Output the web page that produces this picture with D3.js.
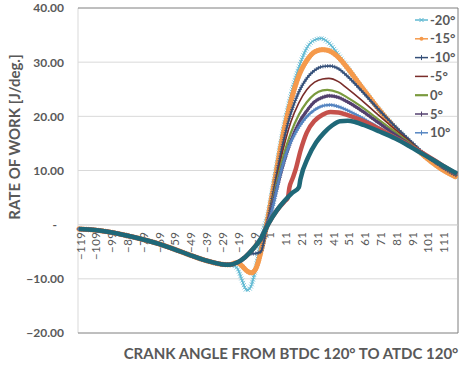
<!DOCTYPE html>
<html lang="en">
<head>
  <meta charset="UTF-8" />
  <title>Rate of work vs crank angle</title>
  <script src="https://d3js.org/d3.v7.min.js"></script>
  <style>
    body { margin: 0; background: #fff; }
    svg { display: block; font-family: Lato, "Open Sans", sans-serif; }
    .tick text { fill: #595959; }
  </style>
</head>
<body>
  <div id="chart"></div>

  <script>
    // shared early part of every curve (angle, J/deg)
    const sharedStart = [[-119,-0.8],[-109,-1.0],[-99,-1.4],[-89,-2.0],[-79,-2.7],[-69,-3.5],
      [-59,-4.5],[-49,-5.6],[-39,-6.6],[-29,-7.3],[-24,-7.4],[-19,-7.0]];

    const seriesNames = ["-20°","-15°","-10°","-5°","0°","5°","10°","15°","20°"];

    const curveM20 = [[-22,-7.5],[-19,-8.0],[-16,-10.2],[-13,-12.1],[-11,-11.8],[-8,-9.0],[-5,-4.5],[-2,-0.5],
      [0,1.5],[5,9.5],[10,17.5],[15,24.0],[20,29.0],[25,32.6],[30,34.1],[34,34.4],[38,33.8],[45,31.4],
      [50,29.3],[60,25.3],[70,21.5],[80,18.2],[90,15.3],[100,12.6],[110,10.4],[120,8.8]];
    const curveM15 = [[-16,-7.6],[-13,-8.5],[-10,-8.9],[-7,-8.0],[-4,-5.0],[-1,-1.0],[0,0.5],[5,8.5],
      [10,16.5],[15,22.8],[20,27.5],[25,30.3],[30,31.9],[35,32.3],[38,32.2],[45,30.9],[50,29.2],
      [60,25.3],[70,21.5],[80,18.1],[90,15.2],[100,12.5],[110,10.3],[120,8.7]];
    const curveM10 = [[-14,-6.0],[-11,-5.4],[-7,-5.3],[-4,-5.0],[-2,-3.0],[0,0.0],[5,7.8],[10,15.0],
      [15,20.6],[20,24.5],[25,27.0],[30,28.5],[35,29.2],[40,29.3],[45,28.8],[50,27.6],[60,24.6],
      [70,21.4],[80,18.4],[90,15.6],[100,12.9],[110,10.7],[120,9.0]];
    const curveM5 = [[-14,-6.0],[-9,-4.6],[-4,-2.5],[0,0.3],[5,7.2],[10,13.8],[15,19.0],[20,22.5],
      [25,24.9],[30,26.3],[35,26.9],[39,27.0],[45,26.4],[50,25.3],[60,22.9],[70,20.3],[80,17.8],
      [90,15.4],[100,12.9],[110,10.8],[120,9.1]];
    const curve0 = [[-14,-6.0],[-9,-4.6],[-4,-2.5],[0,0.3],[5,6.5],[10,12.5],[15,17.0],[20,20.3],
      [25,22.6],[30,24.1],[35,24.8],[38,24.9],[45,24.4],[50,23.6],[60,21.7],[70,19.5],[80,17.3],
      [90,15.1],[100,12.9],[110,10.9],[120,9.2]];
    const curveP5 = [[-14,-6.0],[-9,-4.6],[-4,-2.4],[0,0.2],[5,5.5],[10,11.0],[15,15.5],[20,18.8],
      [25,21.0],[30,22.7],[35,23.5],[39,23.8],[45,23.5],[50,22.8],[60,21.0],[70,18.9],[80,16.8],
      [90,14.8],[100,12.8],[110,10.9],[120,9.2]];
    const curveP10 = [[-14,-6.0],[-9,-4.6],[-4,-2.3],[0,0.0],[3,2.6],[8,9.0],[13,13.9],[18,17.0],
      [24,19.6],[30,21.2],[36,22.0],[40,22.1],[45,21.8],[50,21.2],[60,19.7],[70,18.0],[80,16.3],
      [90,14.6],[100,12.8],[110,11.0],[120,9.3]];
    const curveP15 = [[-14,-6.0],[-9,-4.5],[-4,-2.6],[1,0.3],[6,2.6],[11,4.3],[13,4.9],[14,6.8],[16,8.5],
      [18,10.2],[21,13.6],[25,17.0],[30,19.2],[35,20.3],[40,20.8],[45,20.7],[50,20.3],[60,19.2],
      [70,17.8],[80,16.2],[90,14.6],[100,12.9],[110,11.1],[120,9.3]];
    const curveP20 = [[-14,-6.0],[-9,-4.5],[-4,-2.6],[1,0.3],[6,2.6],[11,4.4],[16,5.9],[20,6.9],
      [21,8.4],[26,12.5],[31,15.2],[36,17.0],[41,18.3],[46,19.1],[51,19.2],[56,18.9],[61,18.4],
      [71,17.2],[81,15.9],[91,14.3],[101,12.6],[111,10.9],[120,9.4]];

    const curves = [curveM20, curveM15, curveM10, curveM5, curve0, curveP5, curveP10, curveP15, curveP20];

    const yTicks = [-20, -10, 0, 10, 20, 30, 40];
    const xTicks = d3.range(-119, 120, 10);

    const colors = ["#5fb9d2","#f59a4c","#344f78","#7a2d2a","#7a9a3e","#54416f","#5585c2","#c5504b","#1f6878"];
    const widths = [1.4, 3.2, 1.6, 1.6, 2.2, 3, 2.2, 4.5, 4.5];
    const markers = ["x", "dot", "plus", null, null, "plus", "plus", null, null];

    const width = 463, height = 368;
    const mLeft = 79, mRight = 457, mTop = 8, mBottom = 333;

    const svg = d3.select("#chart").append("svg")
      .attr("width", width).attr("height", height);

    const x = d3.scaleLinear().domain([-119, 120]).range([mLeft, mRight]);
    const y = d3.scaleLinear().domain([-20, 40]).range([mBottom, mTop]);

    // gridlines
    svg.append("g").selectAll("line")
      .data(yTicks.filter(v => v > -20 && v < 40))
      .join("line")
      .attr("x1", mLeft - 1).attr("x2", mRight)
      .attr("y1", d => y(d)).attr("y2", d => y(d))
      .attr("stroke", "#d9d9d9").attr("stroke-width", 1);

    // frame
    svg.append("line").attr("x1", mLeft - 1).attr("x2", mLeft - 1).attr("y1", mTop).attr("y2", mBottom)
      .attr("stroke", "#d9d9d9");
    svg.append("path")
      .attr("d", `M${mLeft - 1},${mTop}H${mRight + 1}V${mBottom}H${mLeft - 1}`)
      .attr("fill", "none").attr("stroke", "#7f7f7f").attr("stroke-width", 1);

    // y axis
    const yAxis = svg.append("g")
      .attr("transform", `translate(${mLeft - 1},0)`)
      .call(d3.axisLeft(y).tickValues(yTicks).tickSize(0).tickPadding(14)
        .tickFormat(d => d === 0 ? "-" : d3.format(".2f")(d)));
    yAxis.select(".domain").remove();
    yAxis.selectAll("text")
      .attr("font-size", 12).attr("font-weight", "bold")
      .attr("font-family", "Lato, sans-serif")
      .attr("dx", d => d === 0 ? -7 : 0);

    // x axis along zero line
    const xAxis = svg.append("g")
      .attr("transform", `translate(0,${y(0)})`)
      .call(d3.axisBottom(x).tickValues(xTicks).tickSize(0).tickFormat(d3.format("d")));
    xAxis.select(".domain").attr("stroke", "#d9d9d9");
    xAxis.selectAll("text")
      .attr("font-size", 11.5).attr("font-family", "Lato, sans-serif")
      .attr("letter-spacing", 0.4)
      .attr("transform", "rotate(-90)")
      .attr("text-anchor", "end")
      .attr("x", -7).attr("y", 1).attr("dy", "0.35em");

    // series
    const line = d3.line().x(d => x(d[0])).y(d => y(d[1])).curve(d3.curveMonotoneX);

    const plot = svg.append("g");
    curves.forEach((c, i) => {
      const pts = sharedStart.filter(p => p[0] < c[0][0]).concat(c);
      const path = plot.append("path")
        .attr("d", line(pts))
        .attr("fill", "none")
        .attr("stroke", colors[i])
        .attr("stroke-width", widths[i])
        .attr("stroke-linejoin", "round");

      if (markers[i]) {
        const node = path.node();
        const total = node.getTotalLength();
        const pos = d3.range(0, total, 2.4).map(l => node.getPointAtLength(l));
        const mk = plot.append("g").attr("stroke", colors[i]).attr("fill", colors[i]);
        pos.forEach(p => {
          if (markers[i] === "dot") {
            mk.append("circle").attr("cx", p.x).attr("cy", p.y).attr("r", 2.2);
          } else if (markers[i] === "x") {
            mk.append("path").attr("d", `M${p.x - 2},${p.y - 2}L${p.x + 2},${p.y + 2}M${p.x - 2},${p.y + 2}L${p.x + 2},${p.y - 2}`)
              .attr("stroke-width", 0.8);
          } else {
            mk.append("path").attr("d", `M${p.x - 2},${p.y}H${p.x + 2}M${p.x},${p.y - 2}V${p.y + 2}`)
              .attr("stroke-width", 0.8);
          }
        });
      }
    });

    // legend (only first seven entries shown)
    const legend = svg.append("g");
    seriesNames.slice(0, 7).forEach((name, i) => {
      const ly = 20 + i * 18.8;
      const g = legend.append("g").attr("transform", `translate(415,${ly})`);
      g.append("line").attr("x1", 0).attr("x2", 13).attr("y1", 0).attr("y2", 0)
        .attr("stroke", colors[i]).attr("stroke-width", i === 4 ? 2.2 : 1.5);
      if (markers[i] === "x") {
        g.append("path").attr("d", "M4.5,-2L8.5,2M4.5,2L8.5,-2").attr("stroke", colors[i]);
      } else if (markers[i] === "dot") {
        g.append("circle").attr("cx", 6.5).attr("cy", 0).attr("r", 2).attr("fill", colors[i]);
      } else if (markers[i] === "plus") {
        g.append("path").attr("d", "M6.5,-2.5V2.5").attr("stroke", colors[i]);
      }
      g.append("text").attr("x", 15).attr("y", 0).attr("dy", "0.35em")
        .attr("font-size", 13).attr("font-weight", "bold").attr("fill", "#595959")
        .text(name);
    });

    // axis titles
    svg.append("text")
      .attr("transform", `translate(20,137) rotate(-90)`)
      .attr("text-anchor", "middle")
      .attr("font-size", 15).attr("font-weight", "bold").attr("fill", "#595959")
      .text("RATE OF WORK [J/deg.]");

    svg.append("text")
      .attr("x", 291).attr("y", 359)
      .attr("text-anchor", "middle")
      .attr("font-size", 15).attr("font-weight", "bold").attr("fill", "#595959")
      .text("CRANK ANGLE FROM BTDC 120° TO ATDC 120°");
  </script>
</body>
</html>
